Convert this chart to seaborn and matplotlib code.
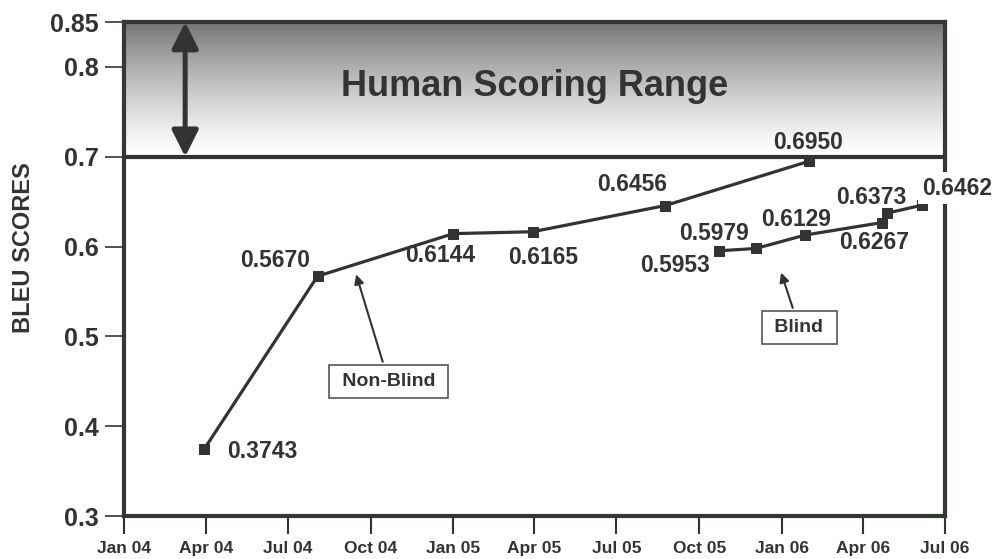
import numpy as np
import pandas as pd
import seaborn as sns
import matplotlib.pyplot as plt
import matplotlib.dates as mdates
from matplotlib.colors import LinearSegmentedColormap

# BLEU scores
nonblind_dates = ['2004-03-30', '2004-08-03', '2005-01-01', '2005-03-30', '2005-08-24', '2006-01-31']
nonblind_scores = [0.3743, 0.5670, 0.6144, 0.6165, 0.6456, 0.6950]
blind_dates = ['2005-10-23', '2005-12-03', '2006-01-27', '2006-04-22', '2006-04-28', '2006-06-06']
blind_scores = [0.5953, 0.5979, 0.6129, 0.6267, 0.6373, 0.6462]

y_ticks = [0.3, 0.4, 0.5, 0.6, 0.7, 0.8, 0.85]
y_ticklabels = ['0.3', '0.4', '0.5', '0.6', '0.7', '0.8', '0.85']
human_low, human_high = 0.7, 0.85

# label offsets in pixels (dx, dy) for each point
nonblind_offsets = [(58, -2), (-42, 16), (-13, -22), (10, -26), (-33, 21), (-1, 19)]
blind_offsets = [(-44, -15), (-42, 15), (-9, 15), (-8, -20), (-16, 16), (35, 17)]

dark = '#333333'

sns.set_theme(style='white')
plt.rcParams['font.family'] = ['Liberation Sans', 'DejaVu Sans']
plt.rcParams['font.weight'] = 'bold'

df = pd.concat([
    pd.DataFrame({'date': pd.to_datetime(nonblind_dates), 'score': nonblind_scores, 'run': 'Non-Blind'}),
    pd.DataFrame({'date': pd.to_datetime(blind_dates), 'score': blind_scores, 'run': 'Blind'}),
])

fig = plt.figure(figsize=(9.94, 5.59), dpi=100)
ax = fig.add_axes([0.1247, 0.0769, 0.8260, 0.8837])

x0 = mdates.date2num(pd.Timestamp('2004-01-01'))
x1 = mdates.date2num(pd.Timestamp('2006-07-01'))

# gradient band for the human scoring range
grad = np.linspace(0, 1, 256).reshape(-1, 1) ** 1.3
cmap = LinearSegmentedColormap.from_list('hs', ['white', '#767676'])
ax.imshow(grad, extent=[x0, x1, human_low, human_high], origin='lower',
          aspect='auto', cmap=cmap, zorder=0)
ax.axhline(human_low, color=dark, lw=3, zorder=2)

sns.lineplot(data=df, x='date', y='score', hue='run',
             palette={'Non-Blind': dark, 'Blind': dark},
             marker='s', markersize=6.5, markeredgecolor=dark, linewidth=2.3,
             legend=False, ax=ax, zorder=3)

# value labels
for dates, scores, offs in [(nonblind_dates, nonblind_scores, nonblind_offsets),
                            (blind_dates, blind_scores, blind_offsets)]:
    for d, s, (dx, dy) in zip(pd.to_datetime(dates), scores, offs):
        kw = {}
        if d == pd.Timestamp(blind_dates[-1]):
            kw['bbox'] = dict(facecolor='white', edgecolor='none', pad=3)
        ax.annotate(f'{s:.4f}', xy=(d, s), xytext=(dx, dy), textcoords='offset pixels',
                    ha='center', va='center', fontsize=16.5, fontweight='bold',
                    color=dark, zorder=5, annotation_clip=False, **kw)

# double arrow for the human range
xa = pd.Timestamp('2004-03-09')
ax.annotate('', xy=(xa, human_low), xytext=(xa, human_high),
            arrowprops=dict(arrowstyle='<|-|>,head_length=0.8,head_width=0.4',
                            color=dark, lw=3.6, mutation_scale=20, shrinkA=0, shrinkB=0),
            zorder=4)
ax.text(0.5, 0.778, 'Human Scoring Range', transform=ax.get_yaxis_transform(),
        ha='center', va='center', fontsize=26, fontweight='bold', color=dark)

# callout boxes
box = dict(boxstyle='square,pad=0.4', facecolor='white', edgecolor='#555555', lw=1.2)
ax.annotate(' Non-Blind ', xy=(pd.Timestamp('2004-09-14'), 0.572),
            xytext=(pd.Timestamp('2004-10-21'), 0.450), ha='center', va='center',
            fontsize=14, fontweight='bold', color=dark, bbox=box,
            arrowprops=dict(arrowstyle='-|>', color=dark, lw=1.5, mutation_scale=14))
ax.annotate(' Blind ', xy=(pd.Timestamp('2005-12-30'), 0.574),
            xytext=(pd.Timestamp('2006-01-20'), 0.510), ha='center', va='center',
            fontsize=14, fontweight='bold', color=dark, bbox=box,
            arrowprops=dict(arrowstyle='-|>', color=dark, lw=1.5, mutation_scale=14))

ax.set_xlim(x0, x1)
ax.set_ylim(0.3, 0.85)
ax.set_yticks(y_ticks)
ax.set_yticklabels(y_ticklabels)
ax.xaxis.set_major_locator(mdates.MonthLocator(bymonth=[1, 4, 7, 10]))
ax.xaxis.set_major_formatter(mdates.DateFormatter('%b %y'))

ax.tick_params(axis='x', bottom=True, direction='out', length=13, width=1.5,
               pad=5, labelsize=12.5, color=dark, labelcolor=dark)
ax.tick_params(axis='y', left=True, direction='out', length=14, width=1.2,
               pad=4, labelsize=18, color=dark, labelcolor=dark)
for lab in ax.get_xticklabels() + ax.get_yticklabels():
    lab.set_fontweight('bold')

for sp in ax.spines.values():
    sp.set_color('#333833')
    sp.set_linewidth(3)

ax.set_xlabel('')
ax.set_ylabel('BLEU SCORES', fontsize=17, fontweight='bold', color=dark)
ax.yaxis.set_label_coords(-0.108, 0.543)

fig.savefig('out.png', dpi=100)
